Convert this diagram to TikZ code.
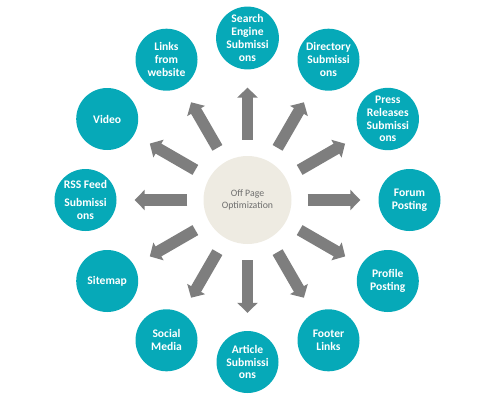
\documentclass[tikz,border=0pt]{standalone}
\usepackage{fontspec}
\setmainfont{Carlito}
\usetikzlibrary{arrows.meta,calc}
\definecolor{tealc}{RGB}{6,169,184}
\definecolor{arrowgray}{RGB}{126,126,126}
\definecolor{centerfill}{RGB}{238,235,226}
\definecolor{centertext}{RGB}{110,110,110}
\tikzset{
  outer/.style={circle, fill=tealc, minimum size=62pt, inner sep=0pt, align=center,
    text=white, font=\fontsize{11.6}{12.8}\selectfont\bfseries},
  hub/.style={circle, fill=centerfill, minimum size=88pt, inner sep=0pt, align=center,
    text=centertext, font=\fontsize{9.8}{11.5}\selectfont},
  blockarrow/.style={draw=arrowgray, line width=11.5pt, shorten <=16pt, shorten >=18pt,
    -{Triangle[width=20pt,length=10pt]}}
}
\begin{document}
\begin{tikzpicture}[x=1pt,y=1pt]
\useasboundingbox (0,0) rectangle (500,400);
\node[hub] (c) at (247.5,200) {Off Page\\Optimization};
\node[outer] (search)  at ($(c)+(90:162)$)   {Search\\Engine\\Submissi\\ons};
\node[outer] (dir)     at ($(c)+(60:162)$)   {Directory\\Submissi\\ons};
\node[outer] (press)   at ($(c)+(30:162)$)   {Press\\Releases\\Submissi\\ons};
\node[outer] (forum)   at ($(c)+(0:162)$)    {Forum\\Posting};
\node[outer] (profile) at ($(c)+(-30:162)$)  {Profile\\Posting};
\node[outer] (footer)  at ($(c)+(-60:162)$)  {Footer\\Links};
\node[outer] (article) at ($(c)+(-90:162)$)  {Article\\Submissi\\ons};
\node[outer] (social)  at ($(c)+(-120:162)$) {Social\\Media};
\node[outer] (sitemap) at ($(c)+(-150:162)$) {Sitemap};
\node[outer] (rss)     at ($(c)+(180:162)$)  {RSS Feed\\[5pt]Submissi\\ons};
\node[outer] (video)   at ($(c)+(150:162)$)  {Video};
\node[outer] (links)   at ($(c)+(120:162)$)  {Links\\from\\website};
\foreach \n in {search,dir,press,forum,profile,footer,article,social,sitemap,rss,video,links}
  \draw[blockarrow] (c) -- (\n);
\end{tikzpicture}
\end{document}
